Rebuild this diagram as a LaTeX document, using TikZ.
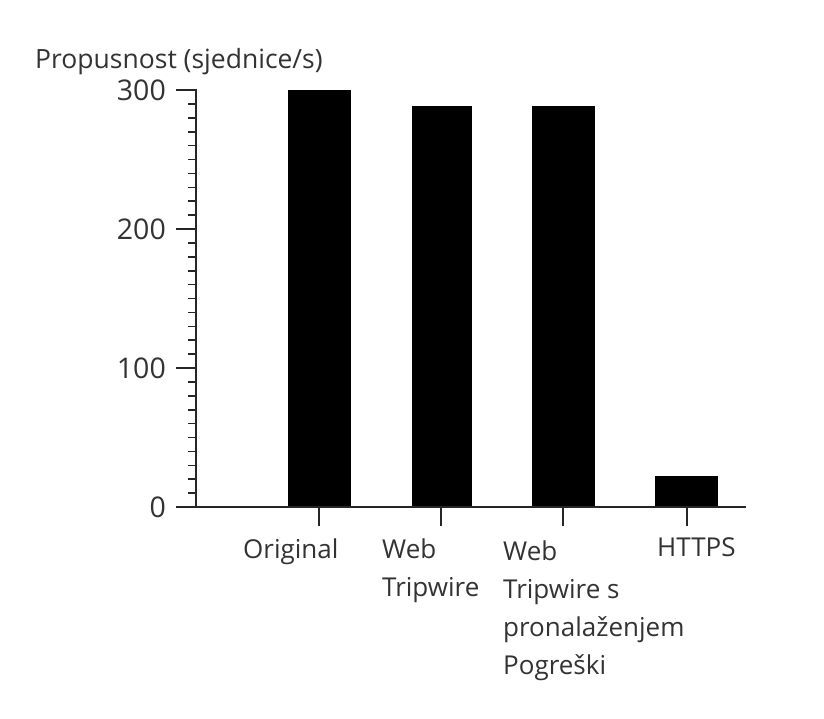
\documentclass[tikz,border=0pt]{standalone}
\usepackage{fontspec}
\setmainfont{Open Sans}
\definecolor{txt}{HTML}{333333}
\begin{document}
\begin{tikzpicture}[x=1pt,y=-1pt,
  axisline/.style={line width=2pt,draw=black!85},
  minortick/.style={line width=1.6pt,draw=black!85},
  bar/.style={fill=black,draw=none},
  ylab/.style={anchor=east,inner sep=0pt,text=txt,font=\fontsize{28.5}{32}\selectfont},
  xlab/.style={anchor=base west,inner sep=0pt,text=txt,font=\fontsize{26}{38}\selectfont},
  ttl/.style={anchor=base west,inner sep=0pt,text=txt,font=\fontsize{26.5}{30}\selectfont}]
\useasboundingbox (0,0) rectangle (824,718);
\fill[white] (0,0) rectangle (824,718);
% bars
\fill[bar] (288,90) rectangle (351,507);
\fill[bar] (412,106) rectangle (472,507);
\fill[bar] (532,106) rectangle (595,507);
\fill[bar] (655,476) rectangle (718,507);
% axes
\coordinate (ytop) at (196,89);
\coordinate (orig) at (196,507);
\coordinate (xend) at (746,507);
\draw[axisline] (ytop) -- (orig);
\draw[axisline] (176,507) -- (xend);
% minor ticks
\foreach \v in {10,20,...,290}{
  \draw[minortick] (188,{507-\v*1.39}) -- (196,{507-\v*1.39});
}
% major ticks and labels
\foreach \v/\n in {0/t0,100/t1,200/t2,300/t3}{
  \draw[axisline] (176,{507-\v*1.39}) -- (196,{507-\v*1.39});
  \node[ylab] (\n) at (166,{507-\v*1.39}) {\v};
}
% x ticks
\foreach \x in {319,441,563,687}{
  \draw[axisline] (\x,507) -- (\x,526);
}
% labels
\node[ttl] (title) at (35,68) {Propusnost (sjednice/s)};
\node[xlab] (l1) at (243,558) {Original};
\node[xlab] (l2) at (382,558) {\vtop{\hbox{Web}\hbox{Tripwire}}};
\node[xlab] (l3) at (503,560) {\vtop{\hbox{Web}\hbox{Tripwire s}\hbox{pronalaženjem}\hbox{Pogreški}}};
\node[xlab] (l4) at (657,556) {HTTPS};
\end{tikzpicture}
\end{document}
